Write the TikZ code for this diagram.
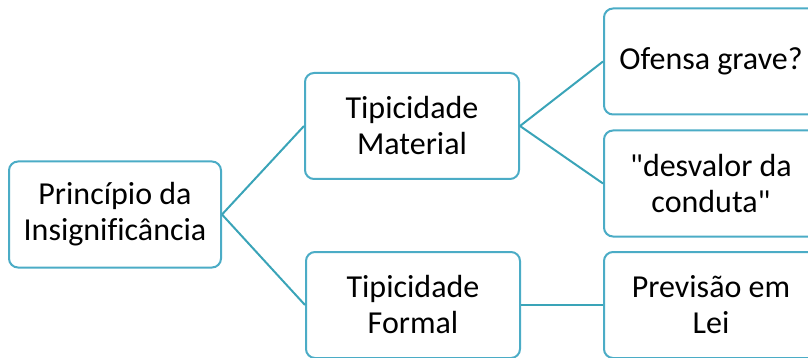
\documentclass[tikz,border=0pt]{standalone}
\usepackage{fontspec}
\setmainfont{Carlito}[Ligatures={TeXOff,NoCommon}]
\usepackage{tikz}
\usetikzlibrary{positioning}
\definecolor{boxteal}{RGB}{75,172,198}
\definecolor{lineteal}{RGB}{58,164,184}
\tikzset{
  mapbox/.style={draw=boxteal,line width=2pt,rounded corners=9pt,fill=white,
    minimum width=212pt,minimum height=106pt,align=center,
    font=\fontsize{32}{36}\selectfont,inner sep=0pt},
  mapline/.style={draw=lineteal,line width=2pt}
}
\begin{document}
\begin{tikzpicture}[x=1pt,y=-1pt]
      \useasboundingbox (0,0) rectangle (808,358); % page size
      \clip (0,0) rectangle (808,358);
      \node[mapbox] (root) at (115,214.5) {Princípio da\\Insignificância}; % root
      \node[mapbox,minimum width=214pt] (material) at (412,126) {Tipicidade\\Material}; % upper branch
      \node[mapbox,minimum width=214pt] (formal) at (413,305) {Tipicidade\\Formal}; % lower branch
      \node[mapbox,minimum width=214pt] (ofensa) at (711,61.5) {Ofensa grave?}; % leaf 1
      \node[mapbox,minimum width=214pt] (desvalor) at (711,183.5) {"desvalor da\\conduta"}; % leaf 2
      \node[mapbox,minimum width=214pt] (previsao) at (711,305) {Previsão em\\Lei}; % leaf 3
      \draw[mapline] (root.east) -- (material.west); % links
      \draw[mapline] (root.east) -- (formal.west);
      \draw[mapline] (material.east) -- (ofensa.west);
      \draw[mapline] (material.east) -- (desvalor.west);
      \draw[mapline] (formal.east) -- (previsao.west);
\end{tikzpicture}
\end{document}
